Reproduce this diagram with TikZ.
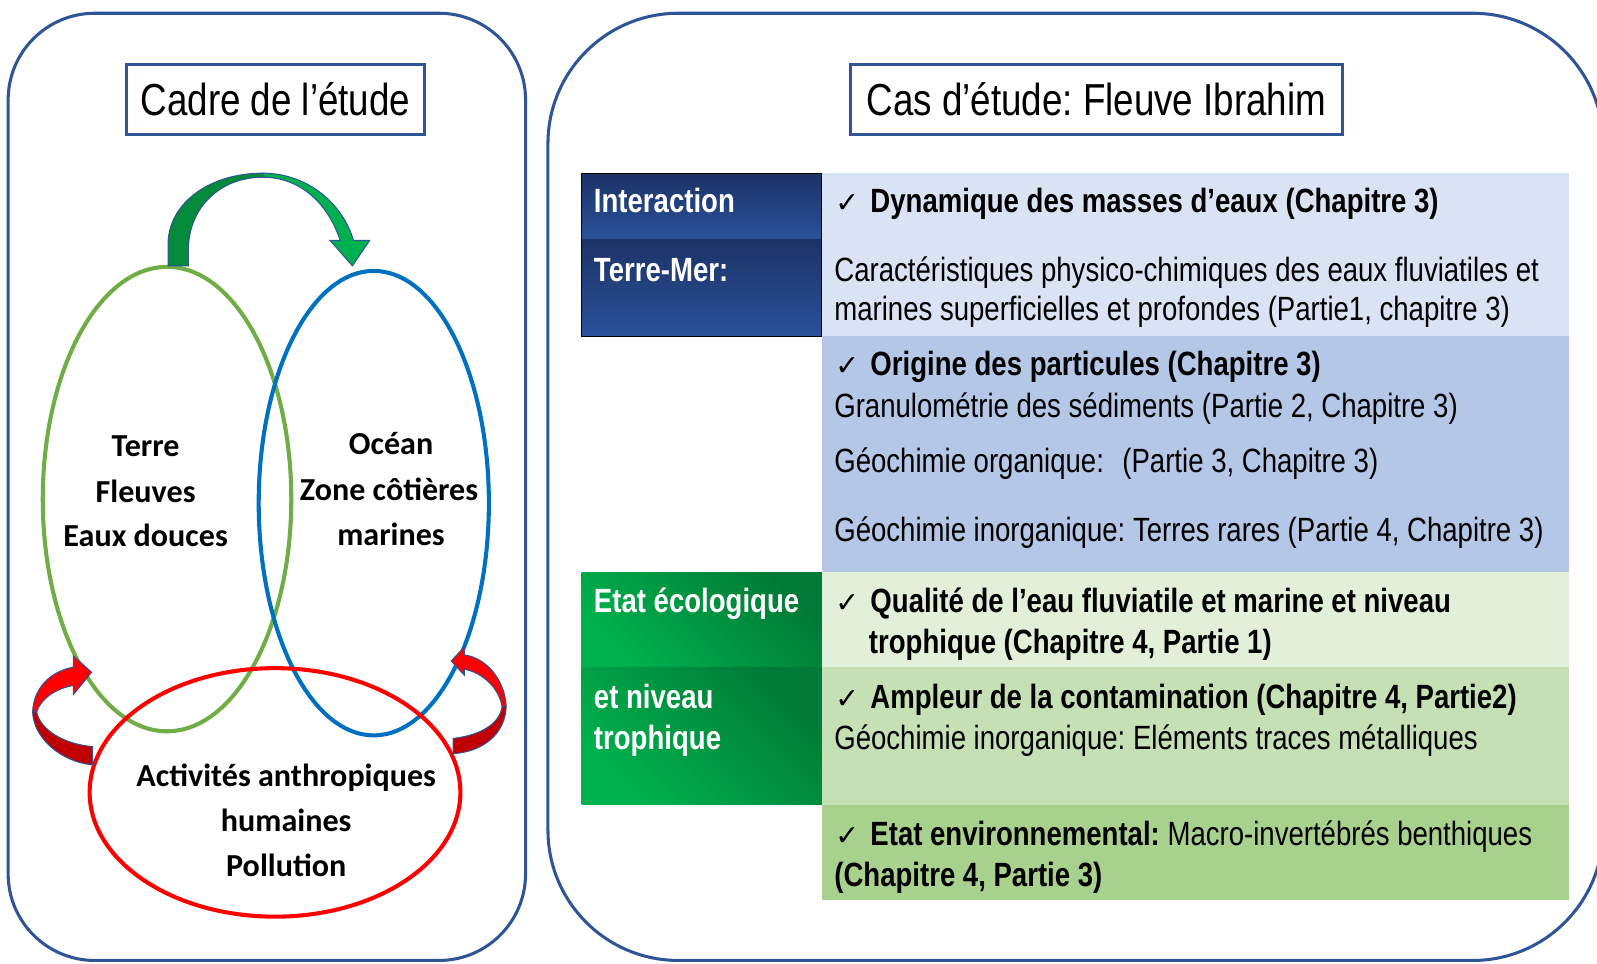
\documentclass[tikz,border=0pt]{standalone}
\usepackage{fontspec}
\setmainfont{Liberation Sans}[FakeStretch=0.82]
\newfontfamily\cali{Carlito}
\newfontfamily\sym{DejaVu Sans}
\frenchspacing
\definecolor{frameblue}{HTML}{2F5597}
\definecolor{greenE}{HTML}{70AD47}
\definecolor{blueE}{HTML}{0070C0}
\definecolor{redE}{HTML}{FF0000}
\definecolor{darkred}{HTML}{C00000}
\definecolor{arrDark}{HTML}{038A3A}
\definecolor{arrBright}{HTML}{00B050}
\definecolor{cellBa}{HTML}{DAE3F3}
\definecolor{cellBb}{HTML}{B4C7E7}
\definecolor{cellGa}{HTML}{E2F0D9}
\definecolor{cellGb}{HTML}{C5E0B4}
\definecolor{cellGc}{HTML}{A9D18E}
\definecolor{navyTop}{HTML}{1C3366}
\definecolor{navyBot}{HTML}{2A519A}
\definecolor{grDark}{HTML}{007A36}
\definecolor{grBright}{HTML}{00B24E}
\tikzset{
  panel/.style={draw=frameblue, line width=3pt},
  titlebox/.style={draw=frameblue, line width=3pt, inner sep=0pt, font=\fontsize{44}{50}\selectfont},
  venn/.style={line width=4pt},
  eltxt/.style={anchor=base, inner sep=0pt, font=\cali\bfseries\fontsize{31.5}{36}\selectfont},
  txt/.style={anchor=base west, inner sep=0pt, font=\fontsize{33}{38}\selectfont},
  btxt/.style={txt, font=\bfseries\fontsize{33}{38}\selectfont},
  wtxt/.style={btxt, text=white},
  outl/.style={draw=frameblue, line width=1pt},
}
\newcommand{\ck}{{\sym\fontsize{28}{30}\selectfont ✓}\hspace{11pt}}
\begin{document}
\begin{tikzpicture}[x=1pt,y=-1pt]
\useasboundingbox (0,0) rectangle (1568,946);
\clip (0,0) rectangle (1568,946);
% panels
\draw[panel, rounded corners=85pt] (8,13) rectangle (516,943);
\draw[panel, rounded corners=128pt] (538,13) rectangle (1574,943);
% titles
\node[titlebox, minimum width=293pt, minimum height=69pt] (t1) at (270.5,97.5) {Cadre de l’étude};
\node[titlebox, minimum width=483pt, minimum height=69pt] (t2) at (1076.5,97.5) {Cas d’étude: Fleuve Ibrahim};
% ellipses
\draw[venn, greenE] (164,490) ellipse [x radius=122, y radius=228];
\draw[venn, blueE] (367,494) ellipse [x radius=113, y radius=228];
\draw[venn, redE] (270,778) ellipse [x radius=182, y radius=122];
% green arrow
\fill[arrDark, outl] (165,261) -- (165,240) .. controls (165,200) and (205,170) .. (258,170)
  -- (258,174) .. controls (215,174) and (185,205) .. (185,245) -- (185,261) -- cycle;
\fill[arrBright, outl] (258,170) .. controls (300,170) and (336,198) .. (347,236) -- (363,236)
  -- (346,261) -- (324,236) -- (334,236) .. controls (322,200) and (295,174) .. (258,174) -- cycle;
% left red arrow
\fill[redE, outl] (72,655) .. controls (50,659) and (33,675) .. (32,699) -- (36,699)
  .. controls (40,686) and (55,676) .. (72,673) -- (72,682) -- (90,660) -- (72,644) -- cycle;
\fill[darkred, outl] (32,699) .. controls (33,725) and (60,748) .. (91,751) -- (91,733)
  .. controls (65,731) and (40,718) .. (36,699) -- cycle;
% right red arrow
\fill[redE, outl] (456,643) .. controls (478,646) and (496,668) .. (497,694) -- (493,694)
  .. controls (490,676) and (475,661) .. (456,657) -- (456,663) -- (443,649) -- (456,635) -- cycle;
\fill[darkred, outl] (497,694) .. controls (496,720) and (475,738) .. (445,740) -- (445,725)
  .. controls (470,722) and (490,712) .. (493,694) -- cycle;
% venn texts
\node[eltxt] (e1) at (143,448) {Terre};
\node[eltxt] (e2) at (143,493) {Fleuves};
\node[eltxt] (e3) at (143,537) {Eaux douces};
\node[eltxt] (o1) at (384,446) {Océan};
\node[eltxt] (o2) at (382,491) {Zone côtières};
\node[eltxt] (o3) at (384,536) {marines};
\node[eltxt] (a1) at (281,772) {Activités anthropiques};
\node[eltxt] (a2) at (281,816) {humaines};
\node[eltxt] (a3) at (281,861) {Pollution};
% table cells
\shade[top color=navyTop, bottom color=navyBot] (571,170) rectangle (807,235);
\shade[top color=navyTop, bottom color=navyBot] (571,235) rectangle (807,330);
\draw[black, line width=1pt] (571,170) rectangle (807,330);
\fill[cellBa] (807,170) rectangle (1540,330);
\fill[cellBb] (807,330) rectangle (1540,562);
\shade[bottom color=grBright, top color=grDark, shading angle=-45] (571,562) rectangle (807,655);
\shade[bottom color=grBright, top color=grDark, shading angle=-45] (571,655) rectangle (807,790);
\fill[cellGa] (807,562) rectangle (1540,655);
\fill[cellGb] (807,655) rectangle (1540,790);
\fill[cellGc] (807,790) rectangle (1540,884);
% left labels
\node[wtxt] (l1) at (583,209) {Interaction};
\node[wtxt] (l2) at (583,276) {Terre-Mer:};
\node[wtxt] (l3) at (583,601) {Etat écologique};
\node[wtxt] (l4) at (583,696) {et niveau};
\node[wtxt] (l5) at (583,736) {trophique};
% right texts
\node[btxt] (r1) at (820,209) {\ck Dynamique des masses d’eaux (Chapitre 3)};
\node[txt] (r2) at (819,276) {Caractéristiques physico-chimiques des eaux fluviatiles et};
\node[txt] (r3) at (819,315) {marines superficielles et profondes (Partie1, chapitre 3)};
\node[btxt] (r4) at (820,369) {\ck Origine des particules (Chapitre 3)};
\node[txt] (r5) at (819,410) {Granulométrie des sédiments (Partie 2, Chapitre 3)};
\node[txt] (r6) at (819,464) {Géochimie organique:\hspace{0.55em}(Partie 3, Chapitre 3)};
\node[txt] (r7) at (819,532) {Géochimie inorganique: Terres rares (Partie 4, Chapitre 3)};
\node[btxt] (r8) at (820,601) {\ck Qualité de l’eau fluviatile et marine et niveau};
\node[btxt] (r9) at (853,642) {trophique (Chapitre 4, Partie 1)};
\node[btxt] (r10) at (820,696) {\ck Ampleur de la contamination (Chapitre 4, Partie2)};
\node[txt] (r11) at (819,736) {Géochimie inorganique: Eléments traces métalliques};
\node[btxt] (r12) at (820,830) {\ck Etat environnemental: \mdseries Macro-invertébrés benthiques};
\node[btxt] (r13) at (819,870) {(Chapitre 4, Partie 3)};
\end{tikzpicture}
\end{document}
